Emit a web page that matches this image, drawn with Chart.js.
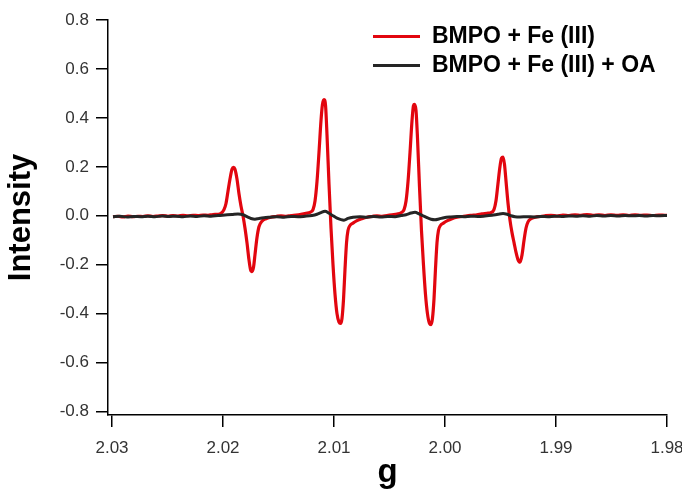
<!DOCTYPE html>
<html>
<head>
<meta charset="utf-8">
<script src="https://cdn.jsdelivr.net/npm/chart.js@4.4.1/dist/chart.umd.min.js"></script>
<style>
  html, body { margin: 0; padding: 0; background: #ffffff; }
  #wrap { width: 682px; height: 493px; }
</style>
</head>
<body>
<div id="wrap"><canvas id="c" width="682" height="493"></canvas></div>
<script>
// ---- Data ----
const seriesLabels = ['BMPO + Fe (III)', 'BMPO + Fe (III) + OA'];
const seriesColors = ['#e2060f', '#252525'];

const xTickValues = [2.03, 2.02, 2.01, 2.00, 1.99, 1.98];
const yTickValues = [-0.8, -0.6, -0.4, -0.2, 0.0, 0.2, 0.4, 0.6, 0.8];

// red: BMPO + Fe (III)
const redG = [
  2.02991, 2.02946, 2.02901, 2.02856, 2.02811, 2.02766, 2.02721, 2.02676, 2.02631, 2.02586,
  2.02541, 2.02495, 2.02450, 2.02405, 2.02360, 2.02315, 2.02270, 2.02225, 2.02180, 2.02135,
  2.02090, 2.02045, 2.02018, 2.01991, 2.01973, 2.01955, 2.01937, 2.01919, 2.01905, 2.01892,
  2.01874, 2.01856, 2.01838, 2.01820, 2.01802, 2.01784, 2.01766, 2.01752, 2.01739, 2.01725,
  2.01712, 2.01694, 2.01676, 2.01649, 2.01613, 2.01568, 2.01523, 2.01477, 2.01432, 2.01387,
  2.01342, 2.01297, 2.01252, 2.01216, 2.01189, 2.01171, 2.01153, 2.01135, 2.01117, 2.01104,
  2.01090, 2.01076, 2.01063, 2.01045, 2.01027, 2.01009, 2.00991, 2.00973, 2.00955, 2.00941,
  2.00928, 2.00914, 2.00901, 2.00887, 2.00874, 2.00856, 2.00829, 2.00793, 2.00748, 2.00703,
  2.00658, 2.00613, 2.00568, 2.00523, 2.00477, 2.00432, 2.00396, 2.00369, 2.00351, 2.00333,
  2.00315, 2.00297, 2.00284, 2.00275, 2.00261, 2.00248, 2.00230, 2.00212, 2.00194, 2.00176,
  2.00158, 2.00140, 2.00126, 2.00113, 2.00099, 2.00086, 2.00072, 2.00059, 2.00041, 2.00014,
  1.99978, 1.99937, 1.99892, 1.99847, 1.99802, 1.99757, 1.99712, 1.99667, 1.99622, 1.99586,
  1.99559, 1.99541, 1.99523, 1.99505, 1.99491, 1.99477, 1.99464, 1.99450, 1.99432, 1.99414,
  1.99396, 1.99378, 1.99360, 1.99342, 1.99324, 1.99306, 1.99288, 1.99270, 1.99252, 1.99225,
  1.99189, 1.99144, 1.99099, 1.99045, 1.98991, 1.98937, 1.98883, 1.98829, 1.98775, 1.98721,
  1.98667, 1.98613, 1.98559, 1.98505, 1.98450, 1.98396, 1.98342, 1.98288, 1.98234, 1.98180,
  1.98126, 1.98072, 1.98018, 1.98000
];
const redI = [
  -0.004, -0.002, -0.005, -0.001, -0.004, -0.002, -0.003, 0.000, -0.003, -0.001,
  0.001, -0.002, 0.001, -0.001, 0.002, 0.000, 0.002, 0.001, 0.003, 0.002,
  0.005, 0.006, 0.010, 0.025, 0.050, 0.100, 0.150, 0.190, 0.198, 0.190,
  0.150, 0.090, 0.040, 0.000, -0.050, -0.110, -0.180, -0.220, -0.228, -0.210,
  -0.160, -0.090, -0.045, -0.022, -0.012, -0.006, -0.003, 0.000, -0.002, 0.001,
  0.003, 0.006, 0.010, 0.014, 0.025, 0.060, 0.140, 0.260, 0.390, 0.455,
  0.475, 0.450, 0.330, 0.130, -0.050, -0.200, -0.320, -0.400, -0.435, -0.440,
  -0.420, -0.340, -0.220, -0.110, -0.060, -0.040, -0.030, -0.020, -0.012, -0.006,
  -0.003, 0.000, -0.002, 0.001, 0.004, 0.007, 0.012, 0.025, 0.060, 0.140,
  0.260, 0.390, 0.450, 0.455, 0.430, 0.320, 0.120, -0.060, -0.200, -0.320,
  -0.400, -0.440, -0.445, -0.420, -0.340, -0.220, -0.110, -0.060, -0.040, -0.030,
  -0.020, -0.012, -0.006, -0.003, 0.000, 0.002, 0.004, 0.008, 0.010, 0.013,
  0.025, 0.060, 0.130, 0.200, 0.235, 0.240, 0.210, 0.140, 0.050, -0.020,
  -0.070, -0.110, -0.150, -0.180, -0.190, -0.160, -0.100, -0.050, -0.025, -0.012,
  -0.006, -0.003, 0.000, 0.002, -0.001, 0.003, 0.001, 0.004, 0.002, 0.005,
  0.002, 0.004, 0.001, 0.004, 0.002, 0.004, 0.001, 0.004, 0.002, 0.003,
  0.001, 0.003, 0.002, 0.002
];

// black: BMPO + Fe (III) + OA
const blackG = [
  2.02991, 2.02928, 2.02865, 2.02802, 2.02739, 2.02676, 2.02613, 2.02550, 2.02486, 2.02423,
  2.02360, 2.02297, 2.02234, 2.02171, 2.02108, 2.02045, 2.01982, 2.01919, 2.01865, 2.01820,
  2.01784, 2.01748, 2.01712, 2.01676, 2.01631, 2.01577, 2.01514, 2.01450, 2.01387, 2.01324,
  2.01261, 2.01198, 2.01153, 2.01117, 2.01081, 2.01045, 2.01009, 2.00973, 2.00937, 2.00910,
  2.00874, 2.00829, 2.00766, 2.00703, 2.00640, 2.00577, 2.00514, 2.00450, 2.00396, 2.00351,
  2.00306, 2.00270, 2.00234, 2.00198, 2.00162, 2.00126, 2.00090, 2.00054, 2.00009, 1.99955,
  1.99892, 1.99829, 1.99766, 1.99703, 1.99640, 1.99577, 1.99523, 1.99477, 1.99441, 1.99405,
  1.99369, 1.99324, 1.99261, 1.99198, 1.99135, 1.99072, 1.99009, 1.98946, 1.98883, 1.98820,
  1.98757, 1.98694, 1.98631, 1.98568, 1.98505, 1.98441, 1.98378, 1.98315, 1.98252, 1.98189,
  1.98126, 1.98063, 1.98000
];
const blackI = [
  -0.004, -0.002, -0.005, -0.003, -0.004, -0.002, -0.004, -0.001, -0.003, -0.002,
  -0.004, -0.001, -0.003, 0.000, -0.002, 0.001, 0.003, 0.005, 0.007, 0.004,
  -0.004, -0.011, -0.014, -0.011, -0.008, -0.006, -0.004, -0.006, -0.003, -0.004,
  -0.002, 0.001, 0.006, 0.013, 0.018, 0.010, 0.000, -0.010, -0.016, -0.018,
  -0.011, -0.006, -0.004, -0.006, -0.003, -0.005, -0.003, -0.004, 0.001, 0.004,
  0.011, 0.014, 0.008, 0.000, -0.008, -0.014, -0.016, -0.013, -0.008, -0.005,
  -0.003, -0.004, -0.002, -0.003, -0.001, 0.002, 0.006, 0.009, 0.006, 0.000,
  -0.004, -0.005, -0.004, -0.005, -0.003, -0.004, -0.002, -0.003, -0.001, -0.002,
  0.000, -0.002, 0.001, -0.001, 0.001, -0.001, 0.001, 0.000, 0.001, -0.001,
  0.001, 0.000, 0.001
];

// ---- Build chart ----
const toPts = (gs, vs) => gs.map((g, i) => ({ x: g, y: vs[i] }));

const legendPlugin = {
  id: 'refLegend',
  afterDraw(chart) {
    const ctx = chart.ctx;
    const rows = [36.5, 65.5];
    ctx.save();
    chart.data.datasets.forEach((ds, i) => {
      const y = rows[i];
      ctx.strokeStyle = ds.borderColor;
      ctx.lineWidth = 3;
      ctx.beginPath();
      ctx.moveTo(373, y);
      ctx.lineTo(420, y);
      ctx.stroke();
      ctx.fillStyle = '#000';
      ctx.font = 'bold 23px "Liberation Sans", Arial, sans-serif';
      ctx.textBaseline = 'middle';
      ctx.textAlign = 'left';
      ctx.fillText(ds.label, 432, y);
    });
    ctx.restore();
  }
};

new Chart(document.getElementById('c'), {
  type: 'line',
  data: {
    datasets: [
      {
        label: seriesLabels[0],
        data: toPts(redG, redI),
        borderColor: seriesColors[0],
        borderWidth: 3.2,
        pointRadius: 0,
        cubicInterpolationMode: 'monotone',
        order: 1
      },
      {
        label: seriesLabels[1],
        data: toPts(blackG, blackI),
        borderColor: seriesColors[1],
        borderWidth: 3,
        pointRadius: 0,
        cubicInterpolationMode: 'monotone',
        order: 0
      }
    ]
  },
  options: {
    responsive: false,
    animation: false,
    devicePixelRatio: 1,
    layout: { padding: { top: 20, right: 15, bottom: 0, left: 0 } },
    plugins: { legend: { display: false }, tooltip: { enabled: false } },
    scales: {
      x: {
        type: 'linear',
        reverse: true,
        min: 1.98,
        max: 2.03036,
        afterBuildTicks: s => { s.ticks = xTickValues.map(v => ({ value: v })); },
        afterFit: s => { s.height = 78; s.paddingLeft = 0; s.paddingRight = 0; },
        ticks: {
          color: '#333',
          font: { family: '"Liberation Sans", Arial, sans-serif', size: 17 },
          padding: 11,
          maxRotation: 0,
          autoSkip: false,
          callback: v => Number(v).toFixed(2)
        },
        grid: { drawOnChartArea: false, drawTicks: true, tickLength: 12, color: '#000', lineWidth: 1.5 },
        border: { display: true, color: '#000', width: 1.5 },
        title: {
          display: true,
          text: 'g',
          color: '#000',
          font: { family: '"Liberation Sans", Arial, sans-serif', size: 33, weight: 'bold' },
          padding: { top: 0, bottom: 0 }
        }
      },
      y: {
        type: 'linear',
        min: -0.8143,
        max: 0.8,
        afterBuildTicks: s => { s.ticks = yTickValues.map(v => ({ value: v })); },
        afterFit: s => { s.width = 108; },
        ticks: {
          color: '#333',
          font: { family: '"Liberation Sans", Arial, sans-serif', size: 17 },
          padding: 7,
          autoSkip: false,
          callback: v => Number(v).toFixed(1)
        },
        grid: { drawOnChartArea: false, drawTicks: true, tickLength: 12, color: '#000', lineWidth: 1.5 },
        border: { display: true, color: '#000', width: 1.5 },
        title: {
          display: true,
          text: 'Intensity',
          color: '#000',
          font: { family: '"Liberation Sans", Arial, sans-serif', size: 31, weight: 'bold' },
          padding: { top: 3, bottom: 0 }
        }
      }
    }
  },
  plugins: [legendPlugin]
});
</script>
</body>
</html>
